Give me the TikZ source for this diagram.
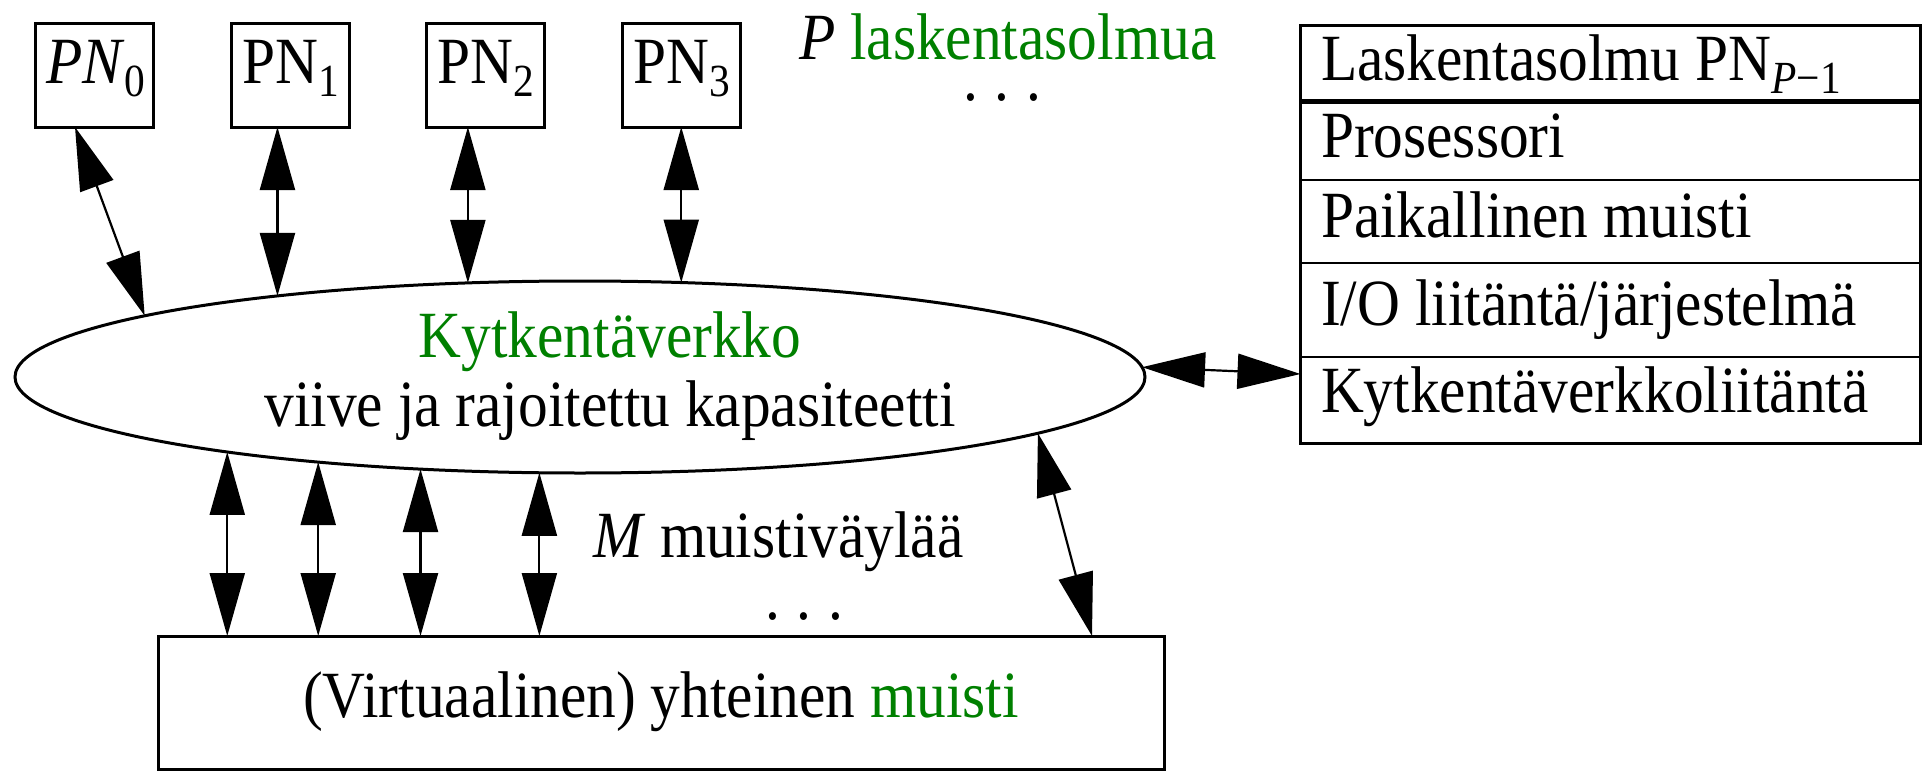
\documentclass[tikz,border=0pt]{standalone}
\usepackage{fontspec}
\setmainfont{Liberation Serif}[FakeStretch=0.9]
\usetikzlibrary{arrows.meta,calc,shapes.geometric}
\definecolor{netgreen}{RGB}{0,128,0}
% lowered, smaller index text
\newcommand\lowsub[1]{\raisebox{-0.2em}{\fontsize{46}{46}\selectfont #1}}
% spaced ellipsis
\newcommand\spdots{.\hspace{0.26em}.\hspace{0.26em}.}

\begin{document}
\begin{tikzpicture}[x=1pt,y=-1pt,
  every node/.style={inner sep=0pt, outer sep=0pt},
  txt/.style={font=\fontsize{66}{72}\selectfont, anchor=base west},
  ctxt/.style={font=\fontsize{66}{72}\selectfont, anchor=base},
  pnbox/.style={draw, line width=3pt, minimum width=118pt, minimum height=104pt},
  row/.style={draw, line width=2pt, minimum width=619.5pt, anchor=north west},
  link/.style={line width=2.2pt,
    {Triangle[length=63pt,width=35pt]}-{Triangle[length=63pt,width=35pt]}},
]
\useasboundingbox (0,0) rectangle (1923,771);

% processing nodes
\node[pnbox] (pn0) at (94,75) {};
\node[pnbox] (pn1) at (290,75) {};
\node[pnbox] (pn2) at (485.5,75) {};
\node[pnbox] (pn3) at (681,75) {};
\node[ctxt] (pn0t) at (96,83) {\textit{PN}\lowsub{0}};
\node[ctxt] (pn1t) at (291,83) {PN\lowsub{1}};
\node[ctxt] (pn2t) at (486,83) {PN\lowsub{2}};
\node[ctxt] (pn3t) at (682,83) {PN\lowsub{3}};

\node[txt] (plab) at (799,59) {\textit{P} \textcolor{netgreen}{laskentasolmua}};
\node[txt] (pdots) at (963,100) {\spdots};

% interconnection network
\node[draw, ellipse, line width=3pt, minimum width=1130pt, minimum height=192pt] (net) at (580,377) {};
\node[ctxt] (nettitle) at (610,357) {\textcolor{netgreen}{Kytkentäverkko}};
\node[ctxt] (netsub) at (610,426) {viive ja rajoitettu kapasiteetti};

% shared memory
\node[draw, line width=3pt, minimum width=1006pt, minimum height=133pt] (mem) at (661,702.5) {};
\node[ctxt] (memtxt) at (661,717) {(Virtuaalinen) yhteinen \textcolor{netgreen}{muisti}};

\node[txt] (mlab) at (593,557) {\textit{M} muistiväylää};
\node[txt] (mdots) at (765,619) {\spdots};

% node structure table
\node[row, minimum height=76pt] (hdr) at (1300.5,25) {};
\node[row, minimum height=79pt] (r1) at (1300.5,101) {};
\node[row, minimum height=83pt] (r2) at (1300.5,180) {};
\node[row, minimum height=94pt] (r3) at (1300.5,263) {};
\node[row, minimum height=86pt] (r4) at (1300.5,357) {};
\draw[line width=3pt] (hdr.north west) rectangle (r4.south east);
\draw[line width=5pt] (hdr.south west) -- (hdr.south east);
\node[txt] (t0) at (1321,80) {Laskentasolmu PN\lowsub{\textit{P}−1}};
\node[txt] (t1) at (1321,157) {Prosessori};
\node[txt] (t2) at (1321,237) {Paikallinen muisti};
\node[txt] (t3) at (1321,325) {I/O liitäntä/järjestelmä};
\node[txt] (t4) at (1321,412) {Kytkentäverkkoliitäntä};

% links between processing nodes and network
\draw[link] ([xshift=-19pt]pn0.south) -- (net.172.4);
\draw[link] (net.165.5 |- pn1.south) -- (net.165.5);
\draw[link] (net.140.7 |- pn2.south) -- (net.140.7);
\draw[link] (net.43.08 |- pn3.south) -- (net.43.08);

% memory buses
\draw[link] (net.192) -- (net.192 |- mem.north);
\draw[link] (net.198.5) -- (net.198.5 |- mem.north);
\draw[link] (net.210.1) -- (net.210.1 |- mem.north);
\draw[link] (net.247.3) -- (net.247.3 |- mem.north);
\draw[link] (net.353.7) -- ([xshift=-72pt]mem.north east);

% network interface link
\draw[link] (net.1.65) -- ([yshift=26pt]r4.west);
\end{tikzpicture}
\end{document}
